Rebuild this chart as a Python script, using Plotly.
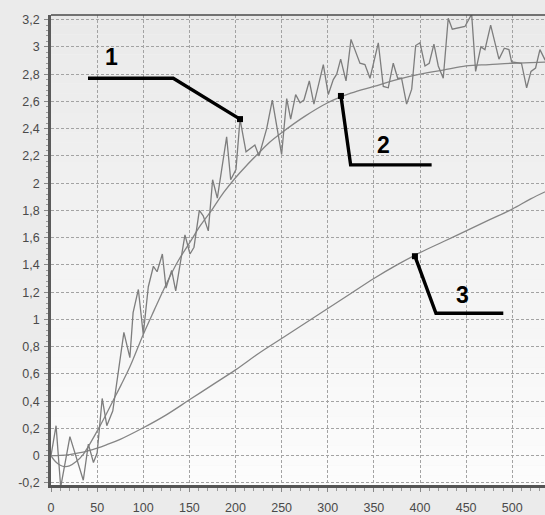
import plotly.graph_objects as go

# ---------------- data ----------------
# curve 1: noisy measured response
x_meas = [0, 5.5, 10.5, 20.5, 35, 40.5, 46, 50, 55.5, 60.5, 67, 79, 85.5, 89, 94.7,
          100, 105.5, 111, 115, 120.7, 124.7, 130.8, 135.2, 145.2, 150.7, 155, 160.8,
          165, 170.5, 175.2, 180.3, 190.4, 194.8, 200.5, 204.9, 211.4, 221, 225.5,
          233.8, 239.9, 250, 255.5, 259.8, 265.2, 270, 274.2, 280, 285, 295.2, 300.6,
          306, 309.7, 314, 319.8, 325.2, 334.9, 340.3, 345.8, 354.8, 360.2, 365.6, 371,
          375.8, 380, 385.5, 391, 395.3, 400, 405.4, 410, 415.1, 419.8, 425.2, 430.6,
          435, 448.7, 456, 460.3, 466, 470.4, 476.6, 485.6, 491.4, 496.4, 499.3, 510,
          515.6, 520.3, 525.3, 530, 535.5, 540]
y_meas = [0, 0.22, -0.23, 0.14, -0.18, 0.085, -0.05, 0.02, 0.42, 0.22, 0.33, 0.905, 0.72,
          1.05, 1.22, 0.89, 1.24, 1.39, 1.35, 1.48, 1.23, 1.36, 1.21, 1.62, 1.48, 1.53,
          1.80, 1.76, 1.65, 2.025, 1.89, 2.34, 2.025, 2.10, 2.47, 2.23, 2.28, 2.20, 2.40,
          2.61, 2.21, 2.62, 2.47, 2.65, 2.59, 2.61, 2.75, 2.58, 2.87, 2.65, 2.76, 2.80,
          2.91, 2.75, 3.055, 2.88, 2.87, 2.77, 3.03, 2.71, 2.70, 2.88, 2.77, 2.77, 2.58,
          2.69, 3.01, 3.03, 2.86, 2.88, 3.02, 2.86, 2.77, 3.21, 3.13, 3.15, 3.24, 2.82,
          3.00, 2.98, 3.16, 2.91, 2.99, 2.98, 2.89, 2.88, 2.70, 2.82, 2.845, 2.98, 2.905,
          2.90]

# curve 2: smooth model of the fast response
x_model = [0, 5, 10, 15, 20, 27, 35, 42, 50, 58, 67, 76, 86, 100, 112, 125, 137, 150,
           162, 175, 187, 200, 212, 225, 237, 250, 275, 300, 325, 350, 375, 400, 425,
           450, 475, 500, 520, 540]
y_model = [0, -0.045, -0.07, -0.08, -0.075, -0.045, 0.01, 0.085, 0.18, 0.28, 0.40, 0.52,
           0.66, 0.89, 1.07, 1.26, 1.42, 1.56, 1.69, 1.81, 1.93, 2.04, 2.13, 2.22, 2.30,
           2.37, 2.49, 2.59, 2.66, 2.71, 2.76, 2.80, 2.83, 2.86, 2.87, 2.88, 2.885, 2.89]

# curve 3: slow response
x_slow = [0, 10, 20, 30, 40, 50, 60, 75, 100, 125, 150, 175, 200, 225, 250, 275, 300,
          325, 350, 375, 400, 425, 450, 475, 500, 520, 540]
y_slow = [0, 0.002, 0.008, 0.02, 0.036, 0.056, 0.08, 0.12, 0.205, 0.30, 0.41, 0.52, 0.63,
          0.75, 0.86, 0.97, 1.08, 1.19, 1.30, 1.40, 1.49, 1.57, 1.65, 1.73, 1.81, 1.885,
          1.95]

x_tick_vals = [0, 50, 100, 150, 200, 250, 300, 350, 400, 450, 500]
x_tick_text = ["0", "50", "100", "150", "200", "250", "300", "350", "400", "450", "500"]
y_tick_vals = [-0.2, 0, 0.2, 0.4, 0.6, 0.8, 1.0, 1.2, 1.4, 1.6, 1.8, 2.0, 2.2, 2.4, 2.6,
               2.8, 3.0, 3.2]
y_tick_text = ["-0,2", "0", "0,2", "0,4", "0,6", "0,8", "1", "1,2", "1,4", "1,6", "1,8",
               "2", "2,2", "2,4", "2,6", "2,8", "3", "3,2"]

# callout labels and their leader lines (data coordinates; first point = tip on the curve)
callout_text = ["1", "2", "3"]
callout_text_x = [65.8, 360.2, 445.8]
callout_text_y = [2.925, 2.28, 1.18]
leader_x = [[204.9, 132.5, 40.1], [314.3, 324.8, 412.6], [394.5, 417.3, 490.3]]
leader_y = [[2.47, 2.77, 2.77], [2.64, 2.134, 2.134], [1.464, 1.045, 1.045]]

# ---------------- figure ----------------
fig = go.Figure()

fig.add_trace(go.Scatter(x=x_slow, y=y_slow, mode="lines", line=dict(color="#858585", width=1.3, shape="spline"),
                         hoverinfo="skip", showlegend=False))
fig.add_trace(go.Scatter(x=x_model, y=y_model, mode="lines", line=dict(color="#858585", width=1.3, shape="spline"),
                         hoverinfo="skip", showlegend=False))
fig.add_trace(go.Scatter(x=x_meas, y=y_meas, mode="lines", line=dict(color="#7d7d7d", width=1.3),
                         hoverinfo="skip", showlegend=False))

for lx, ly in zip(leader_x, leader_y):
    fig.add_trace(go.Scatter(x=lx, y=ly, mode="lines", line=dict(color="black", width=3.4),
                             hoverinfo="skip", showlegend=False))
    fig.add_trace(go.Scatter(x=[lx[0]], y=[ly[0]], mode="markers",
                             marker=dict(color="black", size=6, symbol="square"),
                             hoverinfo="skip", showlegend=False))

for t, tx, ty in zip(callout_text, callout_text_x, callout_text_y):
    fig.add_annotation(x=tx, y=ty, text=t, showarrow=False,
                       font=dict(family="Liberation Sans", size=23, color="black", weight="bold"))

# background gradient bands inside the plot area
n_bands = 48
top_c, bot_c = 234, 252
for i in range(n_bands):
    c = int(round(top_c + (bot_c - top_c) * i / (n_bands - 1)))
    fig.add_shape(type="rect", xref="paper", yref="paper", x0=0, x1=1,
                  y0=1 - (i + 1) / n_bands, y1=1 - i / n_bands,
                  fillcolor=f"rgb({c},{c},{c})", line=dict(width=0), layer="below")

# top frame line
fig.add_shape(type="line", xref="paper", yref="paper", x0=0, x1=1, y0=1, y1=1,
              line=dict(color="#4a4a4a", width=1.5))

tick_font = dict(family="Liberation Sans", size=12.5, color="#4a4a4a")
grid_col = "#a3a3a3"

fig.update_xaxes(range=[0, 535.5], tickvals=x_tick_vals, ticktext=x_tick_text,
                 showgrid=True, gridcolor=grid_col, gridwidth=1, griddash="3px,2px",
                 zeroline=False, showline=True, linecolor="#555555", linewidth=3,
                 ticks="outside", ticklen=4, tickcolor="#888888", tickwidth=1,
                 minor=dict(dtick=10, ticks="outside", ticklen=3, tickcolor="#999999", showgrid=False),
                 tickfont=tick_font, ticklabelstandoff=5)
fig.update_yaxes(range=[-0.215, 3.234], tickvals=y_tick_vals, ticktext=y_tick_text,
                 showgrid=True, gridcolor=grid_col, gridwidth=1, griddash="3px,2px",
                 zeroline=False, showline=True, linecolor="#5a5a5a", linewidth=2.5,
                 ticks="outside", ticklen=4, tickcolor="#888888", tickwidth=1,
                 minor=dict(dtick=0.04, ticks="outside", ticklen=2, tickcolor="#999999", showgrid=False),
                 tickfont=tick_font, ticklabelstandoff=2)

fig.update_layout(width=545, height=515, margin=dict(l=51, r=0, t=15, b=23),
                  paper_bgcolor="#ebebeb", plot_bgcolor="#f3f3f3",
                  separators=", ", showlegend=False)

fig.write_html("out.html")
